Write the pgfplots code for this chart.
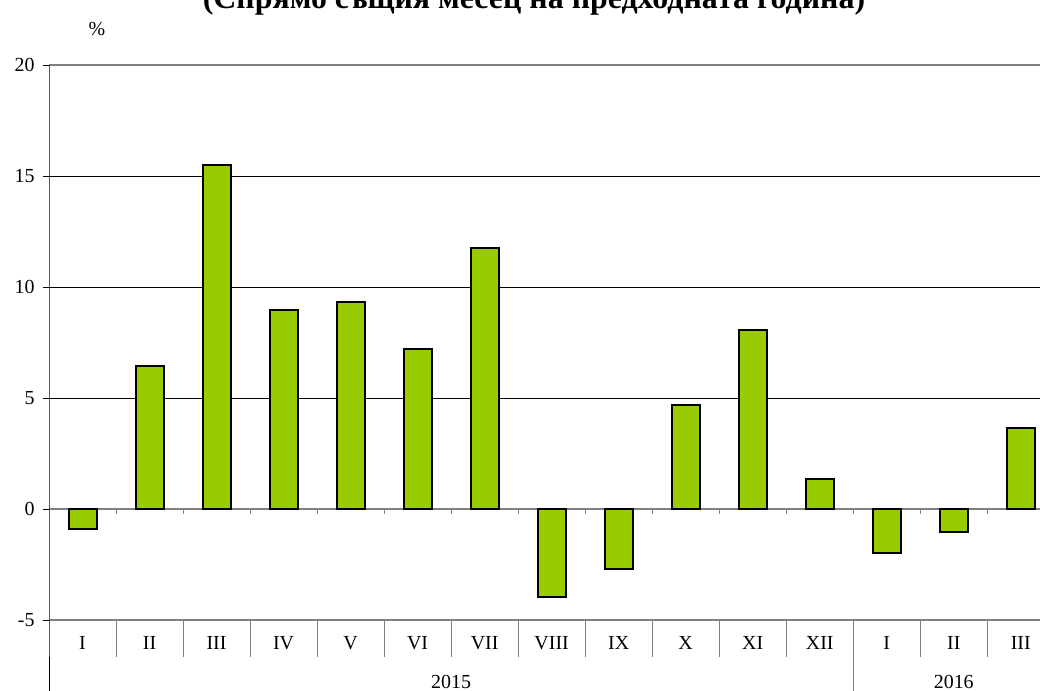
\documentclass[border=0pt]{standalone}
\usepackage{fontspec}
\setmainfont{Liberation Serif}
\usepackage{pgfplots}
\pgfplotsset{compat=1.18}
\definecolor{barg}{HTML}{99CC00}
\tikzset{mlab/.style={font=\fontsize{20}{24}\selectfont, inner sep=0pt},
  sep/.style={gray, line width=0.8bp}}
\begin{document}
\begin{tikzpicture}
\begin{axis}[
  scale only axis,
  width=991bp, height=555bp,
  xmin=-0.5, xmax=14.287,
  ymin=-5, ymax=20,
  ytick={-5,0,5,10,15,20},
  hide x axis,
  axis y line*=left,
  y axis line style={draw=none},
  ytick style={black, line width=0.8bp},
  major tick length=6bp,
  tick align=outside,
  yticklabel style={font=\fontsize{20}{24}\selectfont, xshift=-5bp},
  /pgf/number format/assume math mode=true,
  clip=false,
  ybar, bar width=28bp,
]
% grid lines
\draw[black, line width=0.8bp] (axis cs:-0.5,5) -- (axis cs:14.287,5);
\draw[black, line width=0.8bp] (axis cs:-0.5,10) -- (axis cs:14.287,10);
\draw[black, line width=0.8bp] (axis cs:-0.5,15) -- (axis cs:14.287,15);
\draw[gray, line width=1.2bp] (axis cs:-0.5,20) -- (axis cs:14.287,20);
\draw[gray, line width=1.2bp] (axis cs:-0.5,-5) -- (axis cs:14.287,-5);
\draw[gray, line width=1.2bp] (axis cs:-0.5,0) -- (axis cs:14.287,0);
\foreach \k in {0.5,1.5,...,13.5} {
  \edef\tmp{\noexpand\draw[sep] (axis cs:\k,0) -- ([yshift=-5bp]axis cs:\k,0);}\tmp
}
\foreach \k in {0.5,1.5,...,10.5,12.5,13.5} {
  \edef\tmp{\noexpand\draw[sep] (axis cs:\k,-5) -- ([yshift=-37bp]axis cs:\k,-5);}\tmp
}
\draw[sep] (axis cs:11.5,-5) -- ([yshift=-75bp]axis cs:11.5,-5);
\draw[black, line width=0.8bp] (axis cs:-0.5,20) -- (axis cs:-0.5,-5) -- ([yshift=-75bp]axis cs:-0.5,-5);
\addplot[fill=barg, draw=black, line width=2bp] coordinates {
  (0,-0.89) (1,6.43) (2,15.51) (3,8.96) (4,9.32) (5,7.20) (6,11.74)
  (7,-3.95) (8,-2.69) (9,4.67) (10,8.05) (11,1.34)
  (12,-2.00) (13,-1.02) (14,3.66)
};
\foreach \k/\lab in {0/I,1/II,2/III,3/IV,4/V,5/VI,6/VII,7/VIII,8/IX,9/X,10/XI,11/XII,12/I,13/II,14/III} {
  \edef\tmp{\noexpand\node[mlab] at ([yshift=-23bp]axis cs:\k,-5) {\lab};}\tmp
}
\node[mlab] at ([yshift=-62bp]axis cs:5.5,-5) {2015};
\node[mlab] at ([yshift=-62bp]axis cs:13,-5) {2016};
\node[mlab] at ([xshift=48bp,yshift=36bp]axis cs:-0.5,20) {\%};
\node[font=\fontsize{32}{36}\selectfont\bfseries, inner sep=0pt, anchor=base] at ([xshift=485bp,yshift=56bp]axis cs:-0.5,20) {(Спрямо същия месец на предходната година)};
\coordinate (BL) at (axis cs:-0.5,-5);
\end{axis}
\pgfresetboundingbox
\path[use as bounding box] ([shift={(-49bp,-71bp)}]BL) rectangle ([shift={(991bp,620bp)}]BL);
\end{tikzpicture}
\end{document}
